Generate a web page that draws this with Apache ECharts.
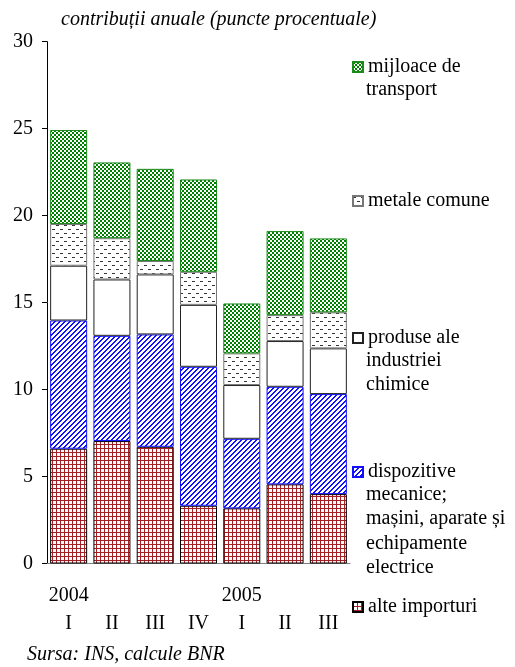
<!DOCTYPE html>
<html>
<head>
<meta charset="utf-8">
<script src="https://cdn.jsdelivr.net/npm/echarts@6/dist/echarts.min.js"></script>
<style>
html,body{margin:0;padding:0;background:#fff;}
#chart{width:515px;height:667px;}
</style>
</head>
<body>
<div id="chart"></div>
<script>
const categories = ['I', 'II', 'III', 'IV', 'I', 'II', 'III'];
const years = ['2004', '', '', '', '2005', '', ''];
const seriesNames = [
  'alte importuri',
  'dispozitive mecanice; mașini, aparate și echipamente electrice',
  'produse ale industriei chimice',
  'metale comune',
  'mijloace de transport'
];
const legendLines = [
  ['alte importuri'],
  ['dispozitive', 'mecanice;', 'mașini, aparate și', 'echipamente', 'electrice'],
  ['produse ale', 'industriei', 'chimice'],
  ['metale comune'],
  ['mijloace de', 'transport']
];
const alteImporturi = [6.6, 7.04, 6.71, 3.32, 3.17, 4.55, 3.99];
const dispozitive = [7.37, 6.05, 6.46, 7.99, 4.0, 5.61, 5.75];
const produseChimice = [3.15, 3.24, 3.45, 3.56, 3.09, 2.63, 2.63];
const metaleComune = [2.4, 2.37, 0.77, 1.9, 1.82, 1.49, 2.07];
const mijloaceTransport = [5.4, 4.36, 5.3, 5.31, 2.87, 4.83, 4.25];
const yTicks = [0, 5, 10, 15, 20, 25, 30];

function pattern(w, h, draw) {
  const c = document.createElement('canvas');
  c.width = w; c.height = h;
  const ctx = c.getContext('2d');
  ctx.fillStyle = '#ffffff';
  ctx.fillRect(0, 0, w, h);
  draw(ctx);
  return { image: c, repeat: 'repeat' };
}
const gridPat = pattern(4, 4, ctx => {
  ctx.fillStyle = '#a31f24';
  ctx.fillRect(0, 0, 4, 1);
  ctx.fillRect(0, 0, 1, 4);
});
const stripePat = pattern(5, 5, ctx => {
  ctx.fillStyle = '#1010ff';
  for (let x = 0; x < 5; x++) for (let y = 0; y < 5; y++) {
    if ((x + y) % 5 < 2) ctx.fillRect(x, y, 1, 1);
  }
});
const whitePat = '#ffffff';
const dashPat = pattern(8, 8, ctx => {
  ctx.fillStyle = '#333333';
  ctx.fillRect(0, 1, 3, 1);
  ctx.fillRect(4, 5, 3, 1);
});
const checkPat = pattern(4, 4, ctx => {
  ctx.fillStyle = '#008000';
  ctx.fillRect(0, 0, 2, 2);
  ctx.fillRect(2, 2, 2, 2);
});

const fills = [gridPat, stripePat, whitePat, dashPat, checkPat];
const borders = ['#000000', '#1010ff', '#222222', '#777777', '#1a8a1a'];
const dataArr = [alteImporturi, dispozitive, produseChimice, metaleComune, mijloaceTransport];

const FONT = '"Liberation Serif", "Times New Roman", serif';
const LH = 24.5;
const legendCenters = [607, 472, 338, 201, 67];
const LEG_LEFT = 352;
const TEXT_X = 366;

const chart = echarts.init(document.getElementById('chart'), null, { renderer: 'canvas' });

const series = seriesNames.map((name, i) => ({
  name: name,
  type: 'bar',
  stack: 'total',
  barWidth: 37,
  data: dataArr[i],
  itemStyle: { color: fills[i], borderColor: borders[i], borderWidth: 1 },
  emphasis: { disabled: true },
  animation: false
}));

const legends = seriesNames.map((name, i) => ({
  data: [name],
  left: LEG_LEFT,
  top: legendCenters[i] - 12,
  padding: 0,
  itemWidth: 10,
  itemHeight: 10,
  icon: 'rect',
  selectedMode: false,
  formatter: () => legendLines[i][0],
  textStyle: { fontFamily: FONT, fontSize: 20, color: '#000', lineHeight: 24 }
}));

const graphics = [];
legendLines.forEach((lines, i) => {
  lines.slice(1).forEach((t, k) => {
    graphics.push({
      type: 'text',
      left: TEXT_X,
      top: legendCenters[i] + (k + 1) * LH - 12,
      style: { text: t, font: '20px ' + FONT, fill: '#000' },
      silent: true
    });
  });
});

chart.setOption({
  animation: false,
  title: [
    {
      text: 'contribuții anuale (puncte procentuale)',
      left: 61, top: 10, padding: 0,
      textStyle: { fontFamily: FONT, fontSize: 20, fontStyle: 'italic', fontWeight: 'normal', color: '#000' }
    },
    {
      text: 'Sursa: INS, calcule BNR',
      left: 27, top: 645, padding: 0,
      textStyle: { fontFamily: FONT, fontSize: 20, fontStyle: 'italic', fontWeight: 'normal', color: '#000' }
    }
  ],
  legend: legends,
  graphic: graphics,
  grid: { left: 47, right: 165, top: 41.7, bottom: 103.5, containLabel: false },
  xAxis: {
    type: 'category',
    data: categories,
    axisLine: { lineStyle: { color: '#808080', width: 1 } },
    axisTick: { show: false },
    axisLabel: {
      interval: 0,
      margin: 18,
      fontFamily: FONT, fontSize: 20, color: '#000', lineHeight: 28,
      formatter: (v, idx) => years[idx] + '\n' + v
    }
  },
  yAxis: {
    type: 'value',
    min: 0, max: 30, interval: 5,
    splitLine: { show: false },
    axisLine: { show: true, lineStyle: { color: '#000', width: 1 } },
    axisTick: { show: true, length: 5, lineStyle: { color: '#000' } },
    axisLabel: {
      margin: 14, fontFamily: FONT, fontSize: 20, color: '#000',
      formatter: v => yTicks.includes(v) ? String(v) : ''
    }
  },
  series: series
});
</script>
</body>
</html>
